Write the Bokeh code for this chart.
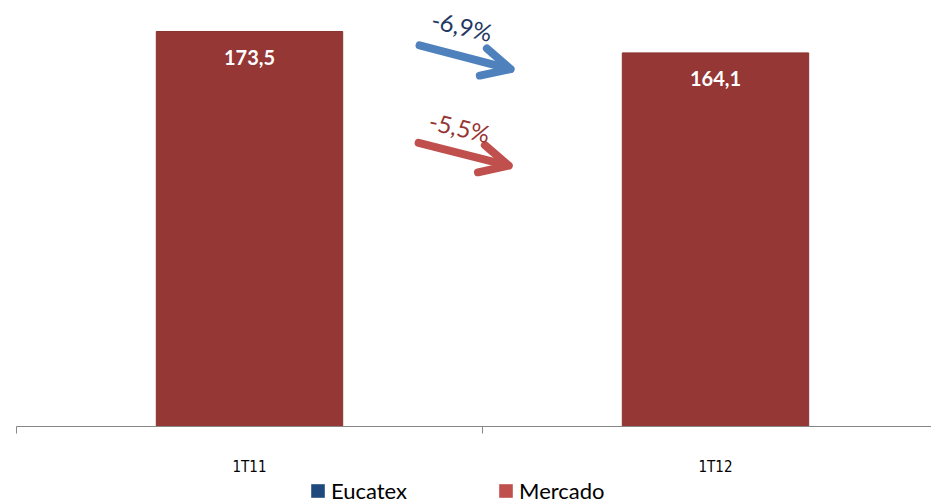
from bokeh.plotting import figure
from bokeh.layouts import column
from bokeh.models import (Range1d, FixedTicker, LinearAxis, Arrow, OpenHead, Legend,
                          LegendItem, ColumnDataSource, Label)
from bokeh.core.properties import value
from bokeh.embed import file_html
from bokeh.resources import INLINE

# ---- data ----
categories = ["1T11", "1T12"]
mercado = [173.5, 164.1]
mercado_labels = ["173,5", "164,1"]
change_eucatex = "-6,9%"
change_mercado = "-5,5%"
legend_names = ["Eucatex", "Mercado"]

BAR = "#953735"
BLUE = "#4F81BD"
RED = "#C0504D"
NAVY = "#1F497D"

W, H = 931, 478
LEFT, TOP, BOTTOM = 16, 8, 50
unit = 466.0           # pixels per category
frame_w = W - LEFT
xs = [i + 0.5 for i in range(len(categories))]

p = figure(width=W, height=H, output_backend="svg", toolbar_location=None,
           x_range=Range1d(0, frame_w / unit), y_range=Range1d(0, 183.6),
           min_border_left=LEFT, min_border_right=0, min_border_top=TOP,
           min_border_bottom=BOTTOM,
           x_axis_location=None, y_axis_location=None)
p.outline_line_color = None
p.grid.visible = False
p.background_fill_color = "white"
p.border_fill_color = "white"

src = ColumnDataSource(dict(x=xs, top=mercado, lab=mercado_labels))
p.vbar(x="x", top="top", width=0.4, source=src, fill_color=BAR,
       line_color="#8A3230", line_width=1)
p.text(x="x", y="top", text="lab", source=src, text_color="white",
       text_font=value("Lato"), text_font_style="bold", text_font_size="20px",
       text_align="center", text_baseline="middle", y_offset=26)

ax = LinearAxis(ticker=FixedTicker(ticks=xs, minor_ticks=list(range(len(categories) + 1))),
                major_label_overrides={x: c for x, c in zip(xs, categories)})
ax.axis_line_color = "#878787"
ax.major_tick_line_color = None
ax.minor_tick_line_color = "#878787"
ax.minor_tick_in = 0
ax.minor_tick_out = 7
ax.major_label_standoff = 24
ax.major_label_text_font = "DejaVu Sans Condensed, Lato"
ax.major_label_text_font_size = "15px"
ax.major_label_text_color = "black"
p.add_layout(ax, "below")

# change arrows between the two bars
p.add_layout(Arrow(end=OpenHead(size=28, line_width=8, line_color=BLUE, line_cap="round", line_join="round"),
                   x_start=0.865, y_start=167.4, x_end=1.060, y_end=157.0,
                   line_color=BLUE, line_width=8, line_cap="round"))
p.add_layout(Arrow(end=OpenHead(size=28, line_width=8, line_color=RED, line_cap="round", line_join="round"),
                   x_start=0.863, y_start=124.6, x_end=1.056, y_end=114.6,
                   line_color=RED, line_width=8, line_cap="round"))
p.add_layout(Label(x=0.956, y=176.0, text=change_eucatex, text_color="#1F3864",
                   text_font="Lato", text_font_size="24px", angle=-0.23,
                   text_align="center", text_baseline="middle"))
p.add_layout(Label(x=0.951, y=131.5, text=change_mercado, text_color="#963634",
                   text_font="Lato", text_font_size="24px", angle=-0.23,
                   text_align="center", text_baseline="middle"))

# legend strip below the chart
q = figure(width=W, height=26, output_backend="svg", toolbar_location=None,
           x_range=Range1d(0, 1), y_range=Range1d(1, 2), min_border=0,
           x_axis_location=None, y_axis_location=None)
q.outline_line_color = None
q.grid.visible = False
r1 = q.vbar(x=[0.5], top=[0], width=0.1, fill_color=NAVY, line_color=None)
r2 = q.vbar(x=[0.5], top=[0], width=0.1, fill_color=RED, line_color=None)
leg = Legend(items=[LegendItem(label=legend_names[0], renderers=[r1]),
                    LegendItem(label=legend_names[1], renderers=[r2])],
             orientation="horizontal", location=(293, 0),
             glyph_width=17, glyph_height=17, label_standoff=5, spacing=90,
             padding=0, margin=0, border_line_color=None, background_fill_alpha=0,
             label_text_font="Lato", label_text_font_size="22px",
             label_text_color="black")
q.add_layout(leg, "center")

open("out.html", "w").write(file_html(column(p, q, spacing=0), INLINE))
